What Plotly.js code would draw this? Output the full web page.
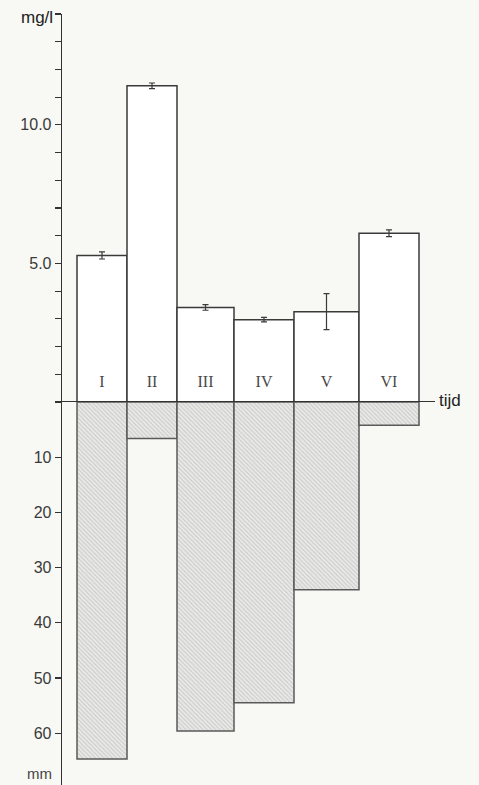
<!DOCTYPE html>
<html>
<head>
<meta charset="utf-8">
<script src="https://cdn.plot.ly/plotly-3.0.1.min.js"></script>
<style>html,body{margin:0;padding:0;background:#f8f8f4;}#chart{width:479px;height:785px;}</style>
</head>
<body>
<div id="chart"></div>
<script>
// Period boundaries along the time axis (arbitrary time units)
const periodEdges = [15, 65, 115, 172, 232, 297, 357];
const timeAxisEnd = 373;
const periods = ['I', 'II', 'III', 'IV', 'V', 'VI'];
// Concentration (mg/l) per period, with error
const concentration = [5.29, 11.41, 3.41, 2.97, 3.26, 6.09];
const concentrationErr = [0.13, 0.1, 0.1, 0.08, 0.65, 0.12];
// Precipitation (mm) per period
const precipitation = [64.7, 6.6, 59.6, 54.5, 34.0, 4.2];
// Axis ticks
const mgTicks = [0,1,2,3,4,5,6,7,8,9,10,11,12,13,14];
const mgTickLabels = ['','','','','','5.0','','','','','10.0','','','',''];
const mmTicks = [10, 20, 30, 40, 50, 60];
const mmTickLabels = ['10', '20', '30', '40', '50', '60'];

const centers = periods.map((_, i) => (periodEdges[i] + periodEdges[i + 1]) / 2);
const widths = periods.map((_, i) => periodEdges[i + 1] - periodEdges[i]);

const W = 479, H = 785;
const axisX = 62, axisEndX = 435;
const topY = 14, zeroY = 402;

const traces = [
  {
    type: 'bar', x: centers, y: concentration, width: widths,
    xaxis: 'x', yaxis: 'y',
    marker: {color: '#ffffff', line: {color: '#3a3a3a', width: 1.5}},
    error_y: {type: 'data', array: concentrationErr, visible: true, width: 3, thickness: 1.2, color: '#3a3a3a'},
    hoverinfo: 'skip'
  },
  {
    type: 'bar', x: centers, y: precipitation, width: widths,
    xaxis: 'x', yaxis: 'y2',
    marker: {color: '#e4e4e2', line: {color: '#5a5a5a', width: 1.5},
      pattern: {shape: '\\', size: 3, solidity: 0.3, fgcolor: '#c6c6c4', bgcolor: '#e9e9e7'}},
    hoverinfo: 'skip'
  },
  {
    type: 'scatter', mode: 'text', x: centers, y: periods.map(() => 0.68), text: periods,
    xaxis: 'x', yaxis: 'y', cliponaxis: false,
    textfont: {family: 'Liberation Serif, serif', size: 16, color: '#4a4a4a'},
    textposition: 'middle center', hoverinfo: 'skip'
  }
];

const tickFont = {family: 'Liberation Sans, Arial, sans-serif', size: 16, color: '#3a3a3a'};

const layout = {
  width: W, height: H,
  margin: {l: 0, r: 0, t: 0, b: 0},
  paper_bgcolor: '#f8f8f4', plot_bgcolor: 'rgba(0,0,0,0)',
  showlegend: false, bargap: 0,
  xaxis: {
    domain: [axisX / W, axisEndX / W], range: [0, timeAxisEnd],
    anchor: 'y2', side: 'top', showline: true, linecolor: '#333', linewidth: 1.3,
    showgrid: false, zeroline: false, showticklabels: false, ticks: '', fixedrange: true
  },
  yaxis: {
    domain: [1 - zeroY / H, 1 - topY / H], range: [0, 14], anchor: 'x',
    showline: true, linecolor: '#333', linewidth: 1.3, showgrid: false, zeroline: false,
    tickmode: 'array', tickvals: mgTicks, ticktext: mgTickLabels,
    ticks: 'outside', ticklen: 6, tickcolor: '#333', tickwidth: 1.2, tickfont: tickFont
  },
  yaxis2: {
    domain: [0, 1 - zeroY / H], range: [69.4, 0], anchor: 'x',
    showline: true, linecolor: '#333', linewidth: 1.3, showgrid: false, zeroline: false,
    tickmode: 'array', tickvals: mmTicks, ticktext: mmTickLabels,
    ticks: 'outside', ticklen: 6, tickcolor: '#333', tickwidth: 1.2, tickfont: tickFont
  },
  annotations: [
    {text: 'mg/l', xref: 'paper', yref: 'y', x: (axisX - 7) / W, y: 14, xanchor: 'right', yanchor: 'middle', yshift: -4,
     showarrow: false, font: {family: 'Liberation Sans, Arial, sans-serif', size: 17, color: '#222'}},
    {text: 'mm', xref: 'paper', yref: 'y2', x: (axisX - 8) / W, y: 67.3, xanchor: 'right', yanchor: 'middle',
     showarrow: false, font: {family: 'Liberation Sans, Arial, sans-serif', size: 15, color: '#444'}},
    {text: 'tijd', xref: 'paper', yref: 'y', x: (axisEndX + 2) / W, y: 0, xanchor: 'left', yanchor: 'middle', yshift: 2,
     showarrow: false, font: {family: 'Liberation Sans, Arial, sans-serif', size: 17, color: '#222'}}
  ]
};

Plotly.newPlot('chart', traces, layout, {displayModeBar: false, staticPlot: true});
</script>
</body>
</html>
